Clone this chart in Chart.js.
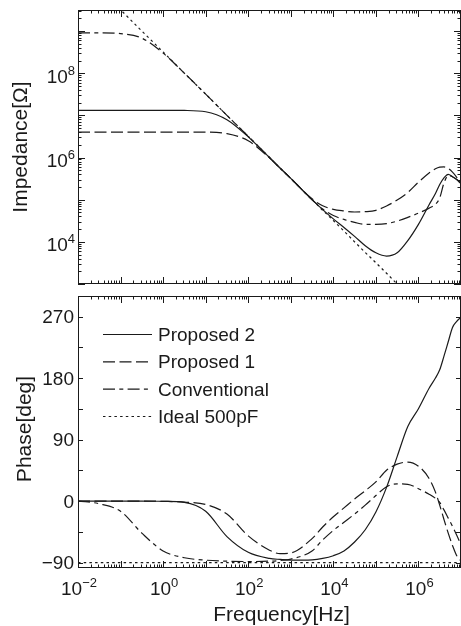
<!DOCTYPE html>
<html>
<head>
<meta charset="utf-8">
<script src="https://cdn.jsdelivr.net/npm/chart.js@4.4.0/dist/chart.umd.min.js"></script>
<style>
  html, body { margin: 0; padding: 0; background: #fff; overflow: hidden; }
  canvas { display: block; }
</style>
</head>
<body>
<canvas id="zChart" width="461" height="290"></canvas>
<canvas id="pChart" width="461" height="336"></canvas>
<script>
// frequency points (Hz) shared by every curve
const freqHz = [0.01, 0.0316, 0.1, 0.316, 1, 3.16, 10, 31.6, 100, 316, 562, 1000, 3160, 5620,
  1e4, 1.78e4, 3.16e4, 5.62e4, 1e5, 1.78e5, 3.16e5, 5.62e5, 1e6, 1.78e6, 2.51e6, 3.16e6,
  3.98e6, 5.01e6, 6.31e6, 7.94e6, 1e7];

// impedance magnitude (ohm)
const zProposed2 = [1.32e7, 1.32e7, 1.32e7, 1.32e7, 1.32e7, 1.31e7, 1.22e7, 7.9e6, 3.1e6, 1.0e6, 5.6e5,
  3.2e5, 1.0e5, 5.8e4, 3.5e4, 2.2e4, 1.35e4, 8.1e3, 5.5e3, 4.6e3, 5.5e3, 1.07e4, 2.6e4, 7.6e4,
  1.4e5, 2.3e5, 3.3e5, 4.0e5, 3.5e5, 3.0e5, 2.4e5];
const zProposed1 = [4.0e6, 4.0e6, 4.0e6, 4.0e6, 4.0e6, 4.0e6, 4.0e6, 3.7e6, 2.5e6, 9.8e5, 5.6e5,
  3.2e5, 1.05e5, 7.2e4, 5.9e4, 5.4e4, 5.1e4, 5.2e4, 5.6e4, 7.1e4, 9.8e4, 1.48e5, 2.6e5, 4.3e5,
  5.4e5, 5.9e5, 6.0e5, 5.5e5, 4.5e5, 3.4e5, 2.4e5];
const zConventional = [9.1e8, 9.1e8, 8.7e8, 6.8e8, 3.0e8, 1.0e8, 3.2e7, 1.0e7, 3.2e6, 1.0e6, 5.6e5,
  3.2e5, 1.0e5, 6.0e4, 4.2e4, 3.4e4, 2.9e4, 2.6e4, 2.6e4, 2.7e4, 3.1e4, 3.8e4, 4.8e4, 6.3e4,
  7.8e4, 1.1e5, 2.5e5, 3.7e5, 3.5e5, 3.0e5, 2.4e5];
const zIdeal = [3.2e10, 1.0e10, 3.2e9, 1.0e9, 3.2e8, 1.0e8, 3.2e7, 1.0e7, 3.2e6, 1.0e6, 5.6e5,
  3.2e5, 1.0e5, 5.6e4, 3.2e4, 1.8e4, 1.0e4, 5.6e3, 3.2e3, 1.8e3, 1.0e3, 5.6e2, 3.2e2, 1.8e2,
  1.26e2, 1.0e2, 79, 63, 50, 40, 32];

// phase (deg)
const phProposed2 = [0, 0, 0, 0, -0.5, -2, -15, -52, -75, -84, -85.5, -86.5, -86, -84, -80, -73,
  -60, -42, -16, 20, 65, 109, 135, 165, 180, 192, 212, 233, 254, 263, 269];
const phProposed1 = [0, 0, 0, 0, -0.5, -1.5, -5, -19, -51, -72, -77, -76, -55, -38, -23, -10,
  3, 15, 28, 45, 54, 57, 51, 33, 13, -6, -27, -47, -65, -80, -88];
const phConventional = [0, -4, -15, -47, -73, -83, -86.5, -88, -88.5, -88, -87, -85, -73, -57, -43,
  -31, -19, -6, 8, 21, 25, 24.5, 18, 10, 4, -2, -13, -25, -37, -50, -64];
const phIdeal = [-90, -90, -90, -90, -90, -90, -90, -90, -90, -90, -90, -90, -90, -90, -90, -90,
  -90, -90, -90, -90, -90, -90, -90, -90, -90, -90, -90, -90, -90, -90, -90];

const seriesLabels = ['Proposed 2', 'Proposed 1', 'Conventional', 'Ideal 500pF'];
const freqTickExp = [-2, 0, 2, 4, 6];
const zTickExp = [4, 6, 8];
const phaseTicks = [270, 180, 90, 0, -90];

const INK = '#1a1a1a';
const FONT = '"Liberation Sans", Arial, Helvetica, sans-serif';
const dashes = [[], [12, 4.5], [12, 4.3, 4, 4.3], [2.5, 3.2]];

function toPoints(ys) {
  return freqHz.map((f, i) => ({ x: f, y: ys[i] }));
}

function buildSets(series) {
  return series.map((ys, i) => ({
    label: seriesLabels[i],
    data: toPoints(ys),
    borderColor: INK,
    borderWidth: 1.2,
    borderDash: dashes[i],
    pointRadius: 0,
    fill: false,
    cubicInterpolationMode: i === 3 ? 'default' : 'monotone',
    tension: i === 3 ? 0 : 0.4
  }));
}

function seg(ctx, x1, y1, x2, y2) {
  ctx.beginPath();
  ctx.moveTo(x1, y1);
  ctx.lineTo(x2, y2);
  ctx.stroke();
}

// "10" with a raised exponent
function drawPow(ctx, exp, x, baseY, align) {
  const base = '10';
  const sup = exp < 0 ? '\u2212' + Math.abs(exp) : String(exp);
  ctx.font = '19px ' + FONT;
  const wb = ctx.measureText(base).width;
  ctx.font = '13px ' + FONT;
  const ws = ctx.measureText(sup).width;
  let x0 = align === 'right' ? x - wb - ws : x - (wb + ws) / 2;
  ctx.textAlign = 'left';
  ctx.textBaseline = 'alphabetic';
  ctx.font = '19px ' + FONT;
  ctx.fillText(base, x0, baseY);
  ctx.font = '13px ' + FONT;
  ctx.fillText(sup, x0 + wb, baseY - 8);
}

function drawFrameAndLogX(chart) {
  const { ctx, chartArea: a, scales } = chart;
  ctx.strokeStyle = INK;
  ctx.lineWidth = 1;
  ctx.setLineDash([]);
  ctx.strokeRect(a.left + 0.5, a.top + 0.5, a.right - a.left - 1, a.bottom - a.top - 1);
  for (let e = -2; e <= 7; e++) {
    for (let m = 1; m <= 9; m++) {
      const v = m * Math.pow(10, e);
      if (v > 1.0001e7) break;
      const px = Math.round(scales.x.getPixelForValue(v)) + 0.5;
      const len = m === 1 ? 7 : 3.5;
      seg(ctx, px, a.bottom, px, a.bottom - len);
      seg(ctx, px, a.top, px, a.top + len);
    }
  }
}

const zPlugin = {
  id: 'zDecor',
  afterDatasetsDraw(chart) {
    const { ctx, chartArea: a, scales } = chart;
    ctx.save();
    drawFrameAndLogX(chart);
    for (let e = 3; e <= 9; e++) {
      for (let m = 1; m <= 9; m++) {
        const v = m * Math.pow(10, e);
        if (v > scales.y.max) break;
        const py = Math.round(scales.y.getPixelForValue(v)) + 0.5;
        const len = m === 1 ? 7 : 3.5;
        seg(ctx, a.left, py, a.left + len, py);
        seg(ctx, a.right, py, a.right - len, py);
      }
    }
    ctx.fillStyle = INK;
    zTickExp.forEach(e => {
      const py = scales.y.getPixelForValue(Math.pow(10, e));
      drawPow(ctx, e, 75, py + 9.5, 'right');
    });
    ctx.translate(27, 147);
    ctx.rotate(-Math.PI / 2);
    ctx.font = '21px ' + FONT;
    ctx.textAlign = 'center';
    ctx.textBaseline = 'alphabetic';
    ctx.fillText('Impedance[\u03A9]', 0, 0);
    ctx.restore();
  }
};

const pPlugin = {
  id: 'pDecor',
  afterDatasetsDraw(chart) {
    const { ctx, chartArea: a, scales } = chart;
    ctx.save();
    drawFrameAndLogX(chart);
    for (let v = -90; v <= 270; v += 45) {
      const py = Math.round(scales.y.getPixelForValue(v)) + 0.5;
      seg(ctx, a.left, py, a.left + 5, py);
      seg(ctx, a.right, py, a.right - 5, py);
    }
    ctx.fillStyle = INK;
    ctx.font = '19px ' + FONT;
    ctx.textAlign = 'right';
    ctx.textBaseline = 'alphabetic';
    phaseTicks.forEach(v => {
      const py = scales.y.getPixelForValue(v);
      ctx.fillText(v < 0 ? '\u2212' + Math.abs(v) : String(v), 74, py + 6.8);
    });
    freqTickExp.forEach(e => {
      const px = scales.x.getPixelForValue(Math.pow(10, e));
      drawPow(ctx, e, px + 1, a.bottom + 26.5, 'center');
    });
    // legend
    const rowY = [44, 71.3, 98.7, 126];
    chart.data.datasets.forEach((ds, i) => {
      ctx.lineWidth = 1.2;
      ctx.setLineDash(ds.borderDash);
      seg(ctx, 103, rowY[i] + 0.5, 152, rowY[i] + 0.5);
      ctx.setLineDash([]);
      ctx.font = '19px ' + FONT;
      ctx.textAlign = 'left';
      ctx.fillText(ds.label, 158, rowY[i] + 7);
    });
    ctx.font = '21px ' + FONT;
    ctx.textAlign = 'center';
    ctx.fillText('Frequency[Hz]', 281.5, 331);
    ctx.translate(31, 139);
    ctx.rotate(-Math.PI / 2);
    ctx.fillText('Phase[deg]', 0, 0);
    ctx.restore();
  }
};

const xScale = { type: 'logarithmic', min: 0.01, max: 1e7, display: false };

new Chart(document.getElementById('zChart').getContext('2d'), {
  type: 'line',
  data: { datasets: buildSets([zProposed2, zProposed1, zConventional, zIdeal]) },
  options: {
    responsive: false,
    animation: false,
    layout: { padding: { left: 78, right: 0, top: 10, bottom: 6 } },
    scales: {
      x: xScale,
      y: { type: 'logarithmic', min: 1e3, max: 3.162e9, display: false }
    },
    plugins: { legend: { display: false }, tooltip: { enabled: false } }
  },
  plugins: [zPlugin]
});

new Chart(document.getElementById('pChart').getContext('2d'), {
  type: 'line',
  data: { datasets: buildSets([phProposed2, phProposed1, phConventional, phIdeal]) },
  options: {
    responsive: false,
    animation: false,
    layout: { padding: { left: 78, right: 0, top: 6, bottom: 58 } },
    scales: {
      x: Object.assign({}, xScale),
      y: { type: 'linear', min: -98, max: 300, display: false }
    },
    plugins: { legend: { display: false }, tooltip: { enabled: false } }
  },
  plugins: [pPlugin]
});
</script>
</body>
</html>
